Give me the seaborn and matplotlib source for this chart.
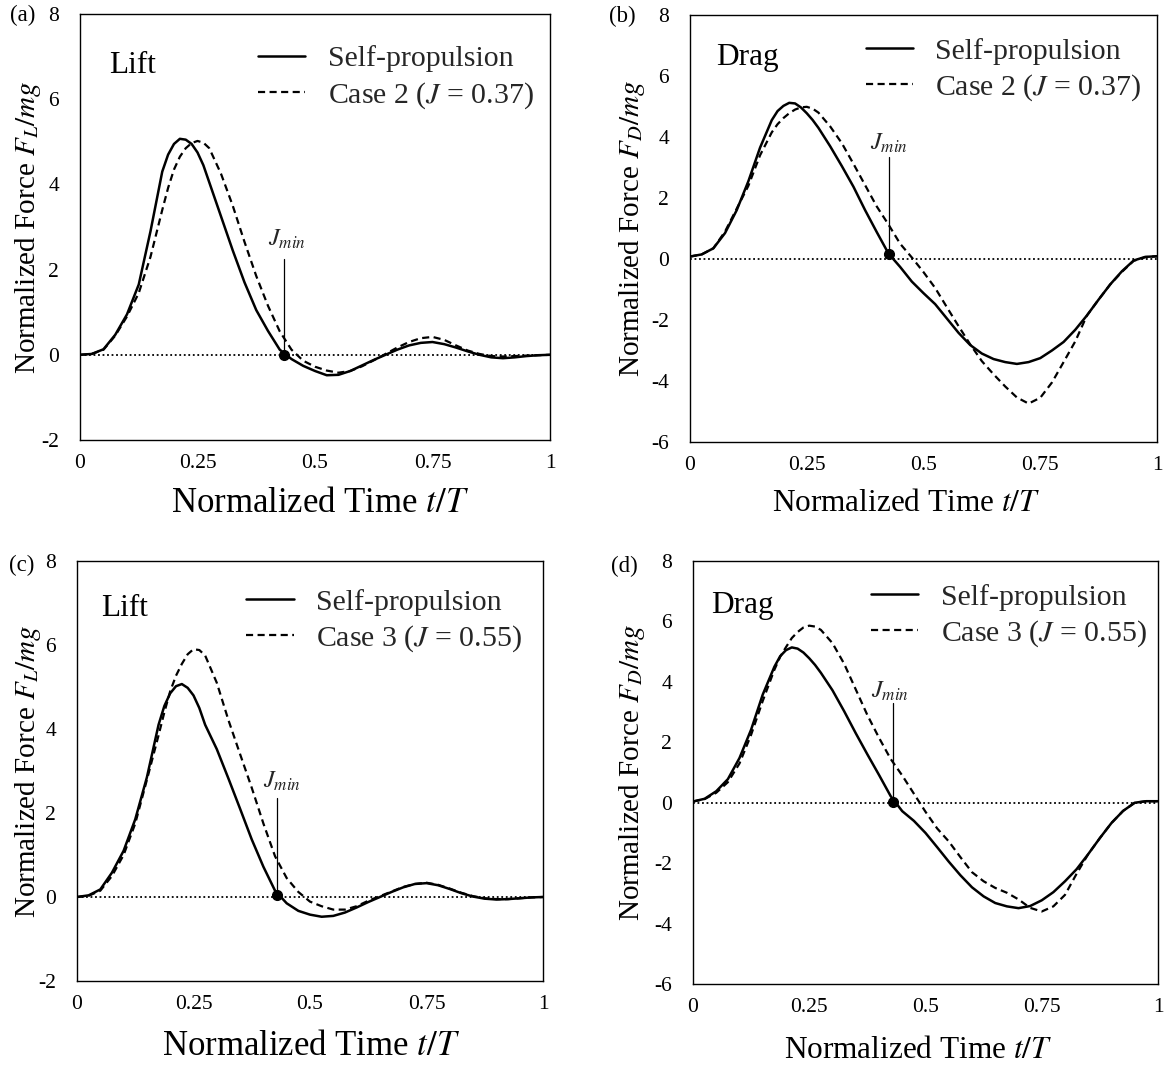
import numpy as np
import pandas as pd
import matplotlib
matplotlib.use("Agg")
import matplotlib.pyplot as plt
import seaborn as sns

# ---------------- data ----------------
t = [0.0, 0.025, 0.05, 0.075, 0.1, 0.125, 0.15, 0.175, 0.1875, 0.2, 0.2125, 0.225,
     0.2375, 0.25, 0.2625, 0.275,
     0.3, 0.325, 0.35, 0.375, 0.4, 0.425, 0.45, 0.475, 0.5, 0.525, 0.55, 0.575,
     0.6, 0.625, 0.65, 0.675, 0.7, 0.725, 0.75, 0.775, 0.8, 0.825, 0.85, 0.875,
     0.9, 0.925, 0.95, 0.975, 1.0]

lift_self_a = [0.0, 0.02, 0.13, 0.47, 0.95, 1.65, 2.9, 4.3, 4.7, 4.95, 5.07, 5.05,
               4.95, 4.75, 4.45, 4.05,
               3.25, 2.45, 1.7, 1.05, 0.56, 0.12, -0.1, -0.26, -0.38, -0.48, -0.47, -0.38,
               -0.25, -0.12, 0.0, 0.12, 0.22, 0.28, 0.3, 0.25, 0.17, 0.08, 0.0, -0.06,
               -0.08, -0.06, -0.03, -0.01, 0.0]
lift_case2 = [0.0, 0.02, 0.12, 0.45, 0.9, 1.45, 2.3, 3.4, 3.92, 4.35, 4.65, 4.85,
              4.97, 5.02, 4.98, 4.85,
              4.25, 3.5, 2.65, 1.85, 1.15, 0.55, 0.12, -0.14, -0.28, -0.37, -0.42, -0.38,
              -0.27, -0.13, 0.02, 0.17, 0.3, 0.39, 0.42, 0.35, 0.22, 0.1, 0.02, -0.03,
              -0.04, -0.03, -0.02, -0.01, 0.0]

drag_self_b = [0.08, 0.15, 0.35, 0.85, 1.6, 2.55, 3.65, 4.55, 4.85, 5.02, 5.12, 5.1,
               4.97, 4.78, 4.56, 4.3,
               3.7, 3.05, 2.37, 1.6, 0.88, 0.18, -0.26, -0.74, -1.12, -1.48, -1.95, -2.42,
               -2.82, -3.1, -3.28, -3.38, -3.44, -3.38, -3.25, -3.0, -2.72, -2.32, -1.85, -1.33,
               -0.83, -0.4, -0.05, 0.07, 0.09]
drag_case2 = [0.08, 0.15, 0.35, 0.9, 1.65, 2.4, 3.4, 4.15, 4.42, 4.62, 4.78, 4.9,
              4.97, 4.99, 4.93, 4.8,
              4.35, 3.8, 3.12, 2.42, 1.72, 1.13, 0.5, 0.05, -0.43, -0.95, -1.58, -2.2,
              -2.8, -3.35, -3.78, -4.18, -4.54, -4.74, -4.55, -4.05, -3.38, -2.7, -1.85, -1.33,
              -0.83, -0.42, -0.06, 0.06, 0.09]

lift_self_c = [0.0, 0.04, 0.18, 0.58, 1.1, 1.85, 2.85, 4.1, 4.55, 4.85, 5.02, 5.07,
               4.98, 4.8, 4.5, 4.1,
               3.52, 2.82, 2.1, 1.37, 0.72, 0.15, -0.15, -0.33, -0.42, -0.47, -0.45, -0.37,
               -0.25, -0.12, 0.0, 0.12, 0.23, 0.31, 0.33, 0.28, 0.19, 0.09, 0.01, -0.04,
               -0.06, -0.05, -0.03, -0.01, 0.0]
lift_case3 = [0.0, 0.03, 0.15, 0.5, 1.0, 1.75, 2.79, 3.85, 4.4, 4.9, 5.27, 5.55,
              5.78, 5.9, 5.88, 5.75,
              5.1, 4.21, 3.4, 2.6, 1.75, 0.97, 0.45, 0.12, -0.11, -0.22, -0.3, -0.3,
              -0.22, -0.09, 0.02, 0.13, 0.24, 0.31, 0.34, 0.29, 0.2, 0.1, 0.02, -0.03,
              -0.05, -0.05, -0.03, -0.01, 0.0]

drag_self_d = [0.04, 0.13, 0.38, 0.78, 1.48, 2.42, 3.58, 4.5, 4.85, 5.05, 5.14, 5.1,
               4.97, 4.78, 4.56, 4.3,
               3.72, 3.03, 2.3, 1.6, 0.92, 0.22, -0.28, -0.6, -1.0, -1.47, -1.95, -2.4,
               -2.8, -3.1, -3.32, -3.43, -3.49, -3.42, -3.23, -2.96, -2.6, -2.2, -1.7, -1.17,
               -0.67, -0.27, 0.0, 0.05, 0.05]
drag_case3 = [0.04, 0.12, 0.33, 0.68, 1.3, 2.25, 3.37, 4.4, 4.83, 5.15, 5.45, 5.65,
              5.8, 5.86, 5.83, 5.72,
              5.28, 4.6, 3.75, 2.9, 2.15, 1.45, 0.9, 0.3, -0.3, -0.85, -1.28, -1.8,
              -2.3, -2.6, -2.82, -2.98, -3.2, -3.48, -3.6, -3.43, -3.05, -2.35, -1.7, -1.17,
              -0.67, -0.27, 0.0, 0.05, 0.05]

# J_min markers: (t, force at dot, top of pointer line, label position)
jmin_t = [0.434, 0.427, 0.430, 0.431]
jmin_f = [0.0, 0.15, 0.05, 0.04]
jmin_top = [2.25, 3.33, 2.35, 3.3]
jmin_lab_t = [0.44, 0.425, 0.439, 0.424]
jmin_lab_f = [2.72, 3.79, 2.75, 3.69]

x_ticks = [0, 0.25, 0.5, 0.75, 1]
x_ticklabels = ["0", "0.25", "0.5", "0.75", "1"]
lift_yticks = [-2, 0, 2, 4, 6, 8]
drag_yticks = [-6, -4, -2, 0, 2, 4, 6, 8]

panel_tags = ["(a)", "(b)", "(c)", "(d)"]
panel_kind = ["Lift", "Drag", "Lift", "Drag"]
case_labels = [r"Case 2 ($J$ = 0.37)", r"Case 2 ($J$ = 0.37)",
               r"Case 3 ($J$ = 0.55)", r"Case 3 ($J$ = 0.55)"]
ylabels = [r"Normalized Force $F_L/mg$", r"Normalized Force $F_D/mg$",
           r"Normalized Force $F_L/mg$", r"Normalized Force $F_D/mg$"]
xlabel = r"Normalized Time $t/T$"

self_series = [lift_self_a, drag_self_b, lift_self_c, drag_self_d]
case_series = [lift_case2, drag_case2, lift_case3, drag_case3]

# ---------------- style ----------------
sns.set_theme(style="white")
plt.rcParams["font.family"] = ["Liberation Serif", "DejaVu Serif"]
plt.rcParams["mathtext.fontset"] = "stix"
plt.rcParams["axes.unicode_minus"] = False

W, H = 1164, 1066
fig = plt.figure(figsize=(W / 100, H / 100), dpi=100)
fig.patch.set_facecolor("white")

# axes boxes in pixels: left, right, top, bottom
boxes = [(80, 550, 14, 440), (690, 1157, 15, 442), (77, 543, 561, 981), (693, 1158, 561, 984)]
ylab_x = [-0.111, -0.124, -0.105, -0.131]
xlab_pos = [(0.51, -0.150), (0.463, -0.145), (0.502, -0.157), (0.484, -0.158)]
xlab_size = [25, 22.5, 25, 22.5]
leg_pos = [(0.378, 0.926), (0.376, 0.947), (0.363, 0.934), (0.382, 0.946)]
kind_pos = [(0.061, 0.878), (0.055, 0.9), (0.051, 0.888), (0.038, 0.894)]
tag_pos = [(23, 15), (622, 16), (22, 565), (624, 566)]

for i in range(4):
    l, r, tp, bt = boxes[i]
    ax = fig.add_axes([l / W, 1 - bt / H, (r - l) / W, (bt - tp) / H])
    ax.set_facecolor("white")

    ax.axhline(0, color="black", lw=1.3, linestyle=(0, (1, 1.5)), zorder=1)

    df = pd.DataFrame({"t": t, "self": self_series[i], "case": case_series[i]})
    sns.lineplot(data=df, x="t", y="self", ax=ax, color="black", lw=1.8,
                 linestyle="-", label="Self-propulsion", zorder=3)
    sns.lineplot(data=df, x="t", y="case", ax=ax, color="black", lw=1.6,
                 linestyle=(0, (3.2, 2)), label=case_labels[i], zorder=3)

    # J_min pointer
    ax.plot([jmin_t[i], jmin_t[i]], [jmin_f[i], jmin_top[i]], color="black", lw=0.9, zorder=4)
    ax.plot([jmin_t[i]], [jmin_f[i]], marker="o", color="black", ms=7, zorder=5)
    ax.text(jmin_lab_t[i], jmin_lab_f[i], r"$J_{min}$", ha="center", va="center", fontsize=17.5)

    ax.set_xlim(0, 1)
    if panel_kind[i] == "Lift":
        ax.set_ylim(-2, 8)
        ax.set_yticks(lift_yticks)
        ax.set_yticklabels([str(v) for v in lift_yticks])
    else:
        ax.set_ylim(-6, 8)
        ax.set_yticks(drag_yticks)
        ax.set_yticklabels([str(v) for v in drag_yticks])
    ax.set_xticks(x_ticks)
    ax.set_xticklabels(x_ticklabels)
    ax.tick_params(axis="both", direction="in", length=4, width=1, color="black",
                   labelsize=15.5, labelcolor="black")
    ax.tick_params(axis="y", pad=15)
    ax.tick_params(axis="x", pad=10)
    for s in ax.spines.values():
        s.set_visible(True)
        s.set_color("black")
        s.set_linewidth(1.0)

    ax.set_ylabel(ylabels[i], fontsize=21, color="black")
    ax.yaxis.set_label_coords(ylab_x[i], 0.5)
    ax.yaxis.label.set_verticalalignment("center")
    ax.set_xlabel(xlabel, fontsize=xlab_size[i], color="black")
    ax.xaxis.set_label_coords(*xlab_pos[i])
    ax.xaxis.label.set_verticalalignment("center")

    ax.text(kind_pos[i][0], kind_pos[i][1], panel_kind[i], transform=ax.transAxes,
            ha="left", va="center", fontsize=22.5, color="black")

    ax.legend(loc="upper left", bbox_to_anchor=leg_pos[i], frameon=False, fontsize=21.5,
              handlelength=1.6, handletextpad=0.74, labelspacing=0.25,
              borderpad=0, borderaxespad=0)

    fig.text(tag_pos[i][0] / W, 1 - tag_pos[i][1] / H, panel_tags[i], ha="center",
             va="center", fontsize=16.5, color="black")

fig.savefig("out.png", dpi=100, facecolor="white")
